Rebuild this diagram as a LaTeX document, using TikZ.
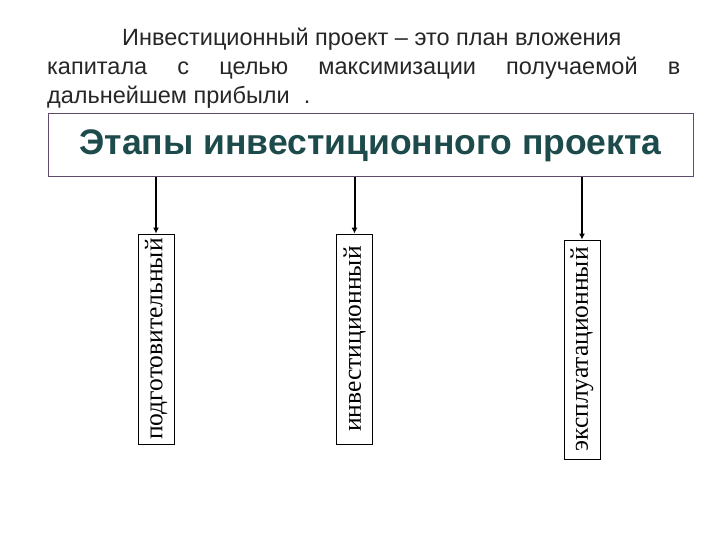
\documentclass[tikz,border=0pt]{standalone}
\usepackage{fontspec}
\setmainfont{Liberation Serif}
\setsansfont{Liberation Sans}
\usetikzlibrary{arrows.meta}
\definecolor{titlegreen}{HTML}{1D4A4A}
\definecolor{frameviolet}{HTML}{5F4B6B}
\begin{document}
\begin{tikzpicture}[x=1pt,y=-1pt,
    intro/.style={anchor=base west,inner sep=0pt,font=\sffamily\fontsize{23.5}{28}\selectfont,text=black!85},
    stagebox/.style={draw,line width=0.8pt,rotate=90,inner sep=0pt,minimum height=36pt,font=\fontsize{25.5}{28}\selectfont},
    stagearrow/.style={line width=2pt,-{Latex[length=6pt,width=6pt]}}]
      \useasboundingbox (0,0) rectangle (720,540);
      \node[intro] (line1) at (122,46) {Инвестиционный проект – это план вложения};
      \node[intro] (line2) at (47,75) {\makebox[633pt][s]{капитала с целью максимизации получаемой в}};
      \node[intro] (line3) at (47,104) {дальнейшем прибыли\hspace{14pt}.};
      \node[draw=frameviolet,line width=1pt,minimum width=645pt,minimum height=63pt,
            font=\sffamily\bfseries\fontsize{35.5}{38}\selectfont,text=titlegreen] (title) at (370.5,145.5)
            {Этапы инвестиционного проекта};
      \node[stagebox,minimum width=210pt] (prep) at (156,339) {подготовительный};
      \node[stagebox,minimum width=210pt] (invest) at (354.5,339) {инвестиционный};
      \node[stagebox,minimum width=219pt] (exploit) at (582,349.5) {эксплуатационный};
      \draw[stagearrow] (title.south -| prep.east) -- (prep.east);
      \draw[stagearrow] (title.south -| invest.east) -- (invest.east);
      \draw[stagearrow] (title.south -| exploit.east) -- (exploit.east);
    \end{tikzpicture}
\end{document}
